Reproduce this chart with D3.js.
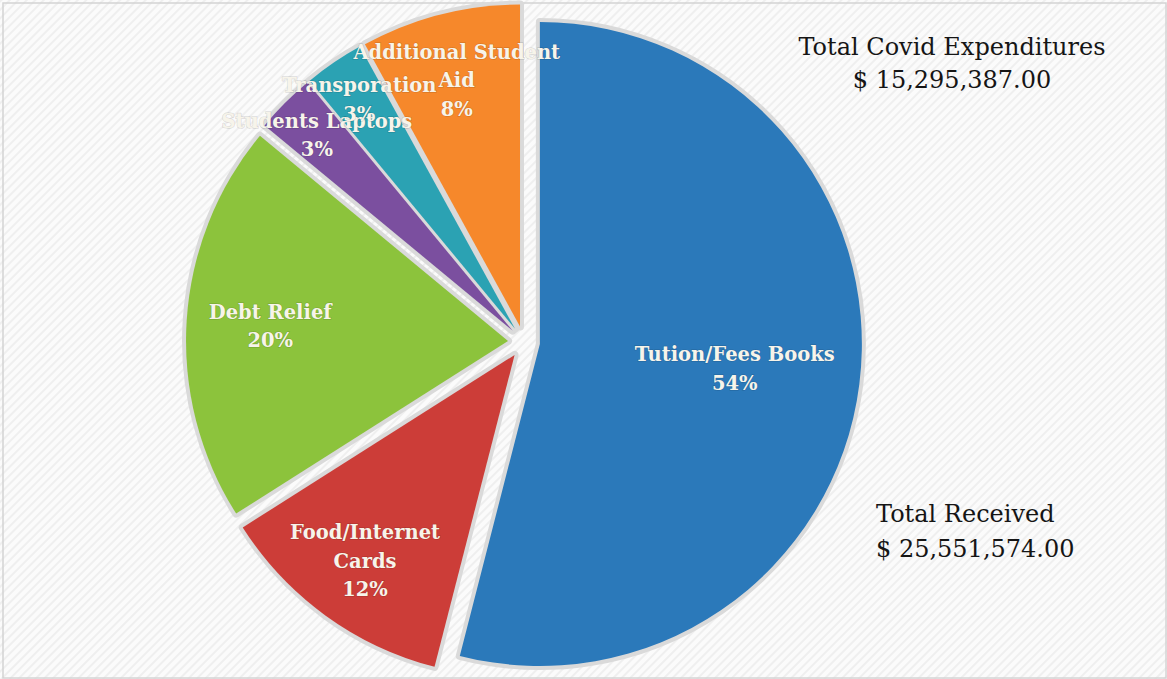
<!DOCTYPE html>
<html>
<head>
<meta charset="utf-8">
<script src="https://cdn.jsdelivr.net/npm/d3@7"></script>
<style>
  html, body { margin: 0; padding: 0; background: #fff; }
  svg { display: block; }
</style>
</head>
<body>
<svg id="chart" width="1167" height="679"></svg>
<script>
'use strict';

// slice names and percentages, clockwise from 12 o'clock
let categories = ['Tution/Fees Books', 'Food/Internet Cards', 'Debt Relief',
    'Students Laptops', 'Transporation', 'Additional Student Aid'];
let shares = [54, 12, 20, 3, 3, 8];
let sliceColors = ['#2b79ba', '#cc3d38', '#8cc33c', '#7b4f9f', '#2ba2b3', '#f6882b'];
// label lines as printed in each slice
let labelLines = [
    ['Tution/Fees Books'],
    ['Food/Internet', 'Cards'],
    ['Debt Relief'],
    ['Students Laptops'],
    ['Transporation'],
    ['Additional Student', 'Aid']
];
let expendTitle = ['Total Covid Expenditures', '$ 15,295,387.00'];
let receivedTitle = ['Total Received', '$ 25,551,574.00'];

let svg = d3.select('#chart');
let width = 1167, height = 679;

// striped paper background
let defs = svg.append('defs');
let pat = defs.append('pattern')
    .attr('id', 'stripes')
    .attr('width', 6).attr('height', 6)
    .attr('patternUnits', 'userSpaceOnUse')
    .attr('patternTransform', 'rotate(45)');
pat.append('rect').attr('width', 6).attr('height', 6).attr('fill', '#fbfbfb');
pat.append('rect').attr('width', 2).attr('height', 6).attr('fill', '#efefef');

svg.append('rect')
    .attr('width', width).attr('height', height)
    .attr('fill', 'url(#stripes)');
svg.append('rect')
    .attr('x', 3).attr('y', 3)
    .attr('width', width - 4).attr('height', height - 4)
    .attr('fill', 'none')
    .attr('stroke', '#d4d4d4')
    .attr('stroke-width', 1.5);

let cx = 524, cy = 342, radius = 322, explode = 16;

let pie = d3.pie().sort(null).value(d => d);
let arcs = pie(shares);
let arc = d3.arc().innerRadius(0).outerRadius(radius);

function offset(d, dist) {
    let a = (d.startAngle + d.endAngle) / 2;
    return [cx + dist * Math.sin(a), cy - dist * Math.cos(a)];
}

let g = svg.append('g');

// grey halo behind every slice
g.selectAll('path.halo')
    .data(arcs)
    .enter().append('path')
    .attr('class', 'halo')
    .attr('transform', d => 'translate(' + offset(d, explode) + ')')
    .attr('d', arc)
    .attr('fill', '#dadada')
    .attr('stroke', '#dadada')
    .attr('stroke-width', 8)
    .attr('stroke-linejoin', 'round');

g.selectAll('path.slice')
    .data(arcs)
    .enter().append('path')
    .attr('class', 'slice')
    .attr('transform', d => 'translate(' + offset(d, explode) + ')')
    .attr('d', arc)
    .attr('fill', (d, i) => sliceColors[i]);

// labels (best-fit style: bigger slices keep label nearer the middle)
let lineH = 28.5;
arcs.forEach(function(d, i) {
    let v = shares[i];
    let frac = v > 50 ? 0.61 : v >= 15 ? 0.74 : v < 5 ? 0.86 : 0.79;
    let p = offset(d, explode + radius * frac);
    let lines = labelLines[i].concat([v + '%']);
    let y0 = p[1] - (lines.length - 1) * lineH / 2;
    let t = svg.append('text')
        .attr('text-anchor', 'middle')
        .attr('font-family', 'DejaVu Serif, serif')
        .attr('font-weight', 'bold')
        .attr('font-size', 19.5)
        .attr('fill', '#f7f4ea')
        .attr('style', 'paint-order: stroke; stroke: rgba(0,0,0,0.12); stroke-width: 1.5px;');
    lines.forEach(function(l, j) {
        t.append('tspan')
            .attr('x', p[0])
            .attr('y', y0 + j * lineH + 7)
            .text(l);
    });
});

// totals
let t1 = svg.append('text')
    .attr('text-anchor', 'middle')
    .attr('font-family', 'DejaVu Serif, serif')
    .attr('font-size', 24)
    .attr('fill', '#151515');
expendTitle.forEach(function(l, j) {
    t1.append('tspan').attr('x', 952).attr('y', 55 + j * 33).text(l);
});

let t2 = svg.append('text')
    .attr('text-anchor', 'start')
    .attr('font-family', 'DejaVu Serif, serif')
    .attr('font-size', 24)
    .attr('fill', '#151515');
receivedTitle.forEach(function(l, j) {
    t2.append('tspan').attr('x', 876).attr('y', 522 + j * 35).text(l);
});
</script>
</body>
</html>
